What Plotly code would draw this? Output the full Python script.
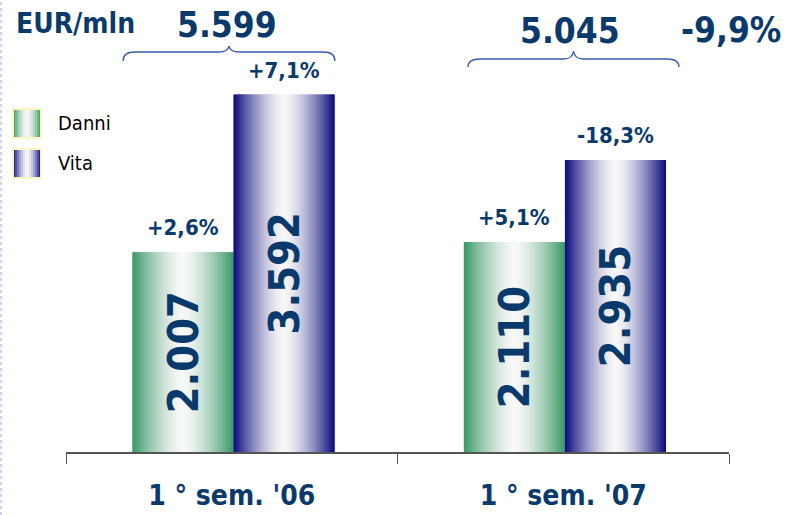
import plotly.graph_objects as go

# data
categories = ["1 ° sem. '06", "1 ° sem. '07"]
danni = [2007, 2110]
vita = [3592, 2935]
danni_labels = ["2.007", "2.110"]
vita_labels = ["3.592", "2.935"]
danni_pct = ["+2,6%", "+5,1%"]
vita_pct = ["+7,1%", "-18,3%"]
totals = ["5.599", "5.045"]
total_change = "-9,9%"
unit = "EUR/mln"

FONT = "DejaVu Sans Condensed, DejaVu Sans, sans-serif"
NAVY = "#0a3a6c"
DANNI_EDGE = (55, 152, 100)
VITA_EDGE = (8, 8, 125)

W, H = 787, 515
L, R, T, B = 66, 58, 0, 63
pw, ph = W - L - R, H - T - B


def px_x(x):
    return (x - L) / pw


def px_y(y):
    return (H - B - y) / ph


def shade(edge, t):
    # horizontal "tube" gradient: dark edges, white middle
    k = abs(t - 0.5) / 0.5
    k = k ** 1.5
    c = [round(248 + (e - 248) * k) for e in edge]
    return "rgb({},{},{})".format(*c)


N = 50
BAR_W = 0.305
fig = go.Figure()

for vals, labels, off, edge in [
    (danni, danni_labels, -0.30, DANNI_EDGE),
    (vita, vita_labels, 0.005, VITA_EDGE),
]:
    ws = BAR_W / N
    for k in range(N):
        # slices overlap the next one so no seams show
        fig.add_trace(go.Bar(
            x=categories, y=vals,
            offset=off + k * ws, width=ws * (2 if k < N - 1 else 1),
            marker=dict(color=shade(edge, (k + 0.5) / N), line=dict(width=0)),
            showlegend=False, hoverinfo="skip",
        ))
    # transparent bar on top carrying the value inside
    fig.add_trace(go.Bar(
        x=categories, y=vals, offset=off, width=BAR_W,
        marker=dict(color="rgba(0,0,0,0)", line=dict(width=0)),
        text=labels, textposition="inside", insidetextanchor="middle",
        textangle=-90, constraintext="none",
        textfont=dict(family=FONT, size=43, color=NAVY, weight="bold"),
        showlegend=False, hoverinfo="skip",
    ))

annotations = []
for i in range(len(categories)):
    for vals, pct, off in [(danni, danni_pct, -0.30), (vita, vita_pct, 0.005)]:
        annotations.append(dict(
            x=i + off + BAR_W / 2, y=vals[i], xref="x", yref="y",
            text=pct[i], showarrow=False, yanchor="bottom", yshift=10,
            font=dict(family=FONT, size=22, color=NAVY, weight="bold"),
        ))

# header texts
annotations.append(dict(x=px_x(14), y=px_y(24), xref="paper", yref="paper",
                        text=unit, showarrow=False, xanchor="left", yanchor="middle",
                        font=dict(family=FONT, size=28, color=NAVY, weight="bold")))
for txt, cx, cy in [(totals[0], 227, 25), (totals[1], 570, 31), (total_change, 731, 30)]:
    annotations.append(dict(x=px_x(cx), y=px_y(cy), xref="paper", yref="paper",
                            text=txt, showarrow=False, xanchor="center", yanchor="middle",
                            font=dict(family=FONT, size=35, color=NAVY, weight="bold")))

# legend
for name, cy in [("Danni", 123), ("Vita", 163)]:
    annotations.append(dict(x=px_x(56), y=px_y(cy), xref="paper", yref="paper",
                            text=name, showarrow=False, xanchor="left", yanchor="middle",
                            font=dict(family=FONT, size=20, color="black")))

shapes = []
for edge, y0 in [(DANNI_EDGE, 109), (VITA_EDGE, 149)]:
    x0, bw, bh = 13, 28, 29
    n = 14
    for k in range(n):
        shapes.append(dict(type="rect", xref="paper", yref="paper",
                           x0=px_x(x0 + bw * k / n), x1=px_x(x0 + bw * (k + 1) / n + 0.5),
                           y0=px_y(y0 + bh), y1=px_y(y0),
                           fillcolor=shade(edge, (k + 0.5) / n), line=dict(width=0)))
    shapes.append(dict(type="rect", xref="paper", yref="paper",
                       x0=px_x(x0), x1=px_x(x0 + bw), y0=px_y(y0 + bh), y1=px_y(y0),
                       line=dict(color="#fbf7c0", width=2)))


def brace(xl, xr, ytop, yend, ypeak):
    xm = (xl + xr) / 2
    pts = [
        ("M", [(xl, yend)]),
        ("Q", [(xl, ytop), (xl + 12, ytop)]),
        ("L", [(xm - 10, ytop)]),
        ("Q", [(xm - 1, ytop), (xm, ypeak)]),
        ("Q", [(xm + 1, ytop), (xm + 10, ytop)]),
        ("L", [(xr - 12, ytop)]),
        ("Q", [(xr, ytop), (xr, yend)]),
    ]
    path = ""
    for cmd, ps in pts:
        path += cmd + " " + " ".join(f"{px_x(a):.5f},{px_y(b):.5f}" for a, b in ps) + " "
    return dict(type="path", xref="paper", yref="paper", path=path.strip(),
                line=dict(color="#3a5cb0", width=1.3))


shapes.append(brace(123, 335, 52, 61, 46))
shapes.append(brace(468, 679, 59, 67, 51))

# dotted border at the left edge
shapes.append(dict(type="line", xref="paper", yref="paper",
                   x0=px_x(1), x1=px_x(1), y0=px_y(H), y1=px_y(0),
                   line=dict(color="#b8c4ec", width=1.5, dash="dot")))

fig.update_layout(
    width=W, height=H,
    margin=dict(l=L, r=R, t=T, b=B),
    barmode="overlay",
    plot_bgcolor="white", paper_bgcolor="white",
    showlegend=False,
    annotations=annotations,
    shapes=shapes,
    xaxis=dict(
        type="category", range=[-0.5, 1.5],
        tickson="boundaries", ticks="outside", ticklen=10, tickcolor="#555", tickwidth=1.2,
        showline=True, linecolor="#555", linewidth=1.5, showgrid=False,
        tickfont=dict(family=FONT, size=28, color=NAVY, weight="bold"),
        ticklabelstandoff=18,
    ),
    yaxis=dict(range=[0, ph / 0.0995], visible=False, showgrid=False),
)

# page body margin would push the figure off the window
fig.write_html("out.html", config={"displayModeBar": False},
               post_script="document.body.style.margin='0';")
